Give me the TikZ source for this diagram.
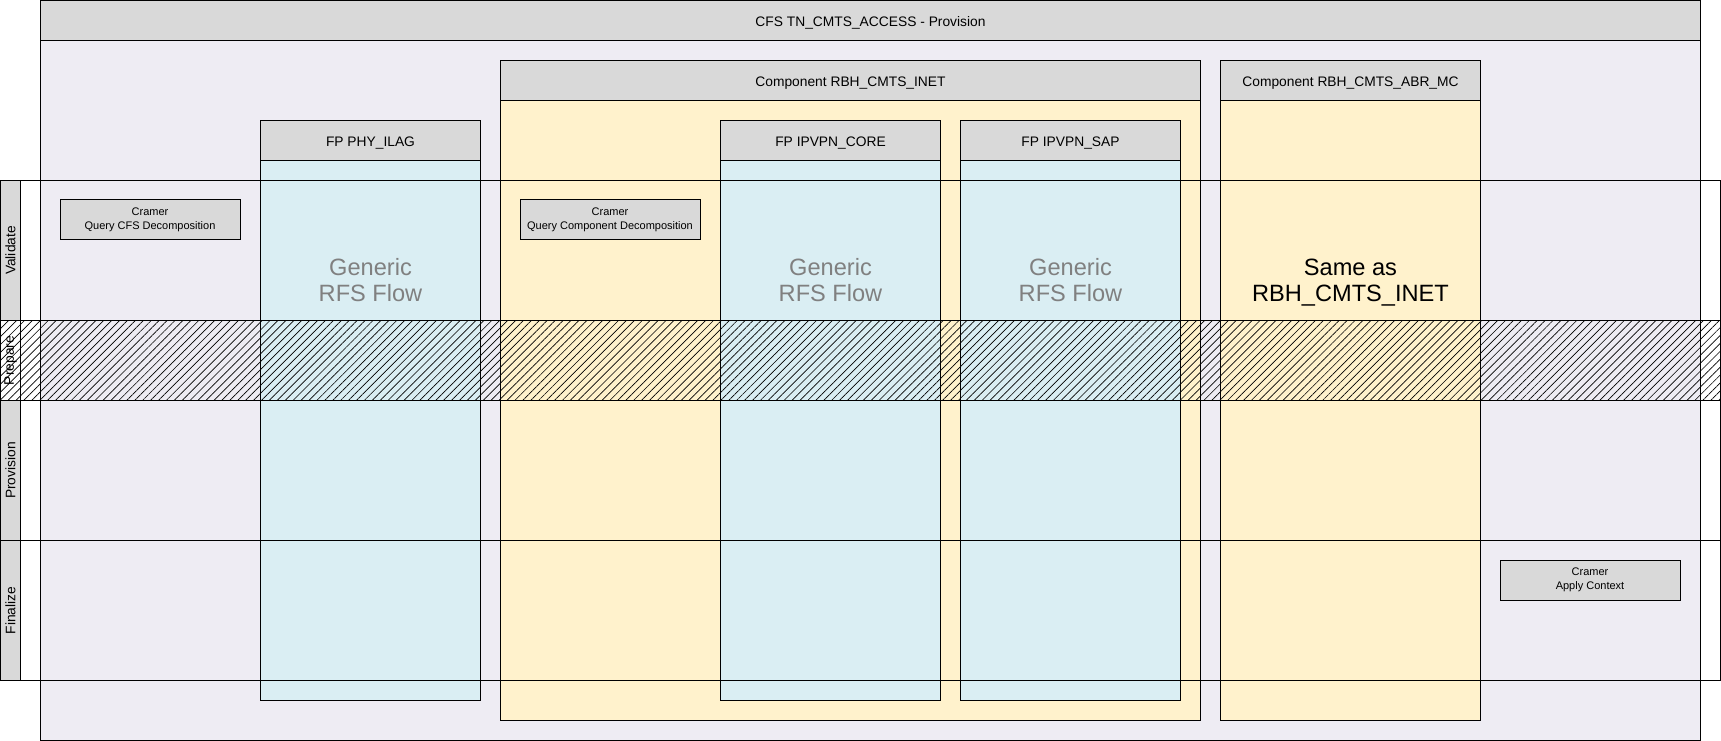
\documentclass[tikz,border=0pt]{standalone}
\usepackage{fontspec}
\setmainfont{Liberation Sans}
\usetikzlibrary{positioning,patterns.meta}
\definecolor{poolbg}{HTML}{EEECF3}
\definecolor{hdrgray}{HTML}{D9D9D9}
\definecolor{compyel}{HTML}{FFF2CC}
\definecolor{fpblue}{HTML}{DAEEF3}
\definecolor{flowgray}{HTML}{808080}

\begin{document}
\begin{tikzpicture}[x=0.75pt,y=-0.75pt,
   cont/.style 2 args={draw,line width=0.75pt,anchor=north west,inner sep=0pt,
      minimum width=#1*0.75pt,minimum height=#2*0.75pt},
   hdr/.style={cont={#1}{40},fill=hdrgray,text height=10.6pt,text depth=1.8pt,
      font=\fontsize{10.35}{12}\selectfont},
   lane/.style={cont={1720}{#1}},
   strip/.style={cont={20}{#1}},
   lbl/.style={rotate=90,inner sep=0pt,font=\fontsize{10.35}{12}\selectfont},
   cram/.style={draw,line width=0.75pt,fill=hdrgray,inner sep=0pt,align=center,
      minimum width=135pt,minimum height=30pt,font=\fontsize{8.25}{10.5}\selectfont},
   flow/.style={align=center,text=flowgray,font=\fontsize{17.7}{19.5}\selectfont},
   hatch/.style={pattern={Lines[angle=45,distance=4.2pt,line width=0.5pt]}}]
 \useasboundingbox (0,0) rectangle (1721,741);

 %outer service
 \node[cont={1660}{740},fill=poolbg] (cfs) at (40,0) {};
 \node[hdr=1660] (cfs_hdr) at (40,0) {CFS TN\_CMTS\_ACCESS - Provision};

 %fp outside components
 \node[cont={220}{580},fill=fpblue] (fp_ilag) at (260,120) {};
 \node[hdr=220] (fp_ilag_hdr) at (260,120) {FP PHY\_ILAG};

 %component inet with its fp
 \node[cont={700}{660},fill=compyel] (cmp_inet) at (500,60) {};
 \node[hdr=700] (cmp_inet_hdr) at (500,60) {Component RBH\_CMTS\_INET};
 \node[cont={220}{580},fill=fpblue] (fp_core) at (720,120) {};
 \node[hdr=220] (fp_core_hdr) at (720,120) {FP IPVPN\_CORE};
 \node[cont={220}{580},fill=fpblue] (fp_sap) at (960,120) {};
 \node[hdr=220] (fp_sap_hdr) at (960,120) {FP IPVPN\_SAP};

 %component abr
 \node[cont={260}{660},fill=compyel] (cmp_abr) at (1220,60) {};
 \node[hdr=260] (cmp_abr_hdr) at (1220,60) {Component RBH\_CMTS\_ABR\_MC};

 %lanes
 \node[lane=140] (ln_val) at (0,180) {};
 \node[lane=80,hatch] (ln_pre) at (0,320) {};
 \node[lane=140] (ln_pro) at (0,400) {};
 \node[lane=140] (ln_fin) at (0,540) {};
 \node[strip=140,fill=hdrgray] (st_val) at (0,180) {};
 \node[strip=80] (st_pre) at (0,320) {};
 \node[strip=140,fill=hdrgray] (st_pro) at (0,400) {};
 \node[strip=140,fill=hdrgray] (st_fin) at (0,540) {};
 \node[lbl] (lb_val) at (st_val.center) {Validate};
 \node[lbl] (lb_pre) at (st_pre.center) {Prepare};
 \node[lbl] (lb_pro) at (st_pro.center) {Provision};
 \node[lbl] (lb_fin) at (st_fin.center) {Finalize};

 %cramer steps
 \node[cram] (cr_cfs) at (150,220) {Cramer\\Query CFS Decomposition};
 \node[cram] (cr_cmp) at (610,220) {Cramer\\Query Component Decomposition};
 \node[cram] (cr_ctx) at (1590,580) {Cramer\\Apply Context};

 %flow texts
 \node[flow] (fl_ilag) at (fp_ilag.north|-0,280) {Generic\\RFS Flow};
 \node[flow] (fl_core) at (fp_core.north|-0,280) {Generic\\RFS Flow};
 \node[flow] (fl_sap) at (fp_sap.north|-0,280) {Generic\\RFS Flow};
 \node[flow,text=black] (fl_abr) at (cmp_abr.north|-0,283) {Same as\\RBH\_CMTS\_INET};
\end{tikzpicture}
\end{document}
